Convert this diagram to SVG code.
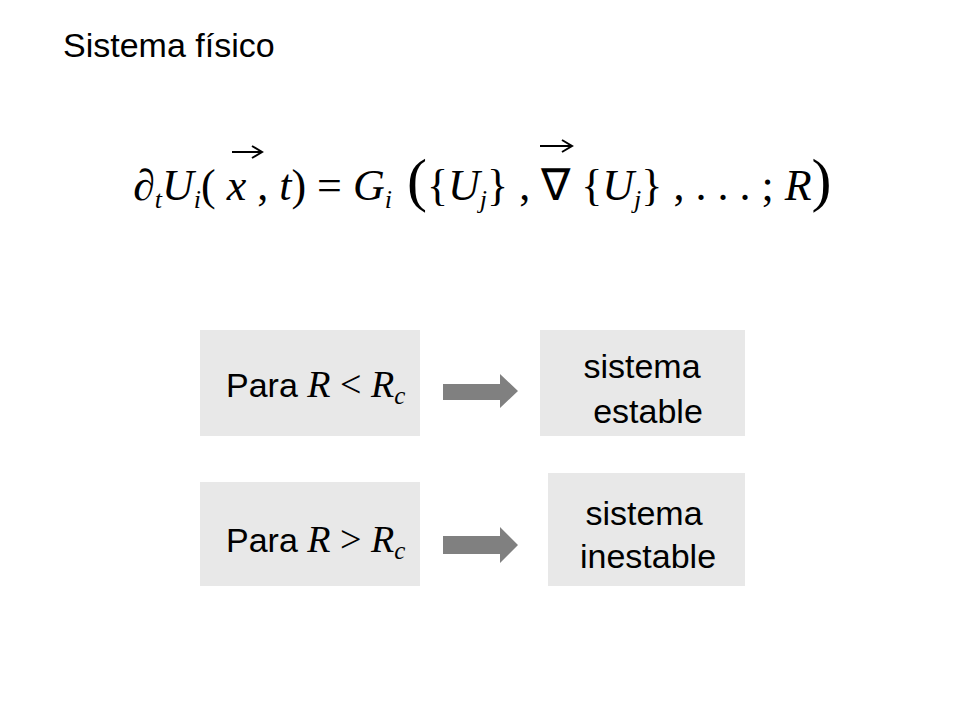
<svg xmlns="http://www.w3.org/2000/svg" width="960" height="720" viewBox="0 0 960 720">
<style>
.box{fill:#e8e8e8}
.t{font-family:"Liberation Sans",Arial,sans-serif;font-size:34px;fill:#000}
.m{font-family:"Liberation Serif","Times New Roman",serif;fill:#000}
.arr{fill:#808080}
</style>
<rect width="960" height="720" fill="#fff"/>
<text x="63" y="57" class="t" font-size="33">Sistema físico</text>
<g id="equation" class="m" font-size="44">
<text x="133" y="200"><tspan font-style="italic">∂</tspan><tspan font-size="26" font-style="italic" dy="8">t</tspan><tspan dy="-8" font-style="italic">U</tspan><tspan font-size="26" font-style="italic" dy="8">i</tspan><tspan dy="-8">(</tspan><tspan font-style="italic"> x</tspan><tspan> , </tspan><tspan font-style="italic">t</tspan><tspan>) = </tspan><tspan font-style="italic">G</tspan><tspan font-size="26" font-style="italic" dy="8">i</tspan><tspan dy="-8" font-size="60"> (</tspan><tspan>{</tspan><tspan font-style="italic">U</tspan><tspan font-size="26" font-style="italic" dy="8">j</tspan><tspan dy="-8">} ,  ∇ {</tspan><tspan font-style="italic">U</tspan><tspan font-size="26" font-style="italic" dy="8">j</tspan><tspan dy="-8">} , . . . ; </tspan><tspan font-style="italic">R</tspan><tspan font-size="60">)</tspan></text>
</g>
<g id="nodes">
<g id="n1"><rect class="box" x="200" y="330" width="220" height="106"/><text x="226" y="397" class="t">Para <tspan class="m" font-style="italic" font-size="38">R</tspan><tspan class="m" font-size="38"> &lt; </tspan><tspan class="m" font-style="italic" font-size="38">R</tspan><tspan class="m" font-style="italic" font-size="25" dy="7">c</tspan></text></g>
<g id="n2"><rect class="box" x="540" y="330" width="205" height="106"/><text x="642" y="378" class="t" text-anchor="middle">sistema</text><text x="648" y="423" class="t" text-anchor="middle">estable</text></g>
<g id="n3"><rect class="box" x="200" y="482" width="220" height="104"/><text x="226" y="552" class="t">Para <tspan class="m" font-style="italic" font-size="38">R</tspan><tspan class="m" font-size="38"> &gt; </tspan><tspan class="m" font-style="italic" font-size="38">R</tspan><tspan class="m" font-style="italic" font-size="25" dy="7">c</tspan></text></g>
<g id="n4"><rect class="box" x="548" y="473" width="197" height="113"/><text x="644" y="525" class="t" text-anchor="middle">sistema</text><text x="648" y="568" class="t" text-anchor="middle">inestable</text></g>
</g>
<g id="connectors">
<polygon class="arr" points="443,384 500,384 500,374 518,391 500,408 500,400 443,400"/>
<polygon class="arr" points="443,536 500,536 500,527 518,545 500,563 500,554 443,554"/>
</g>
<g id="eqmarks" stroke="#000" fill="none" stroke-width="2">
<path d="M 232 152 L 262 152 M 252 146 L 262 152 L 252 158"/>
<path d="M 540 146 L 572 146 M 562 140 L 572 146 L 562 152"/>
</g>
</svg>
